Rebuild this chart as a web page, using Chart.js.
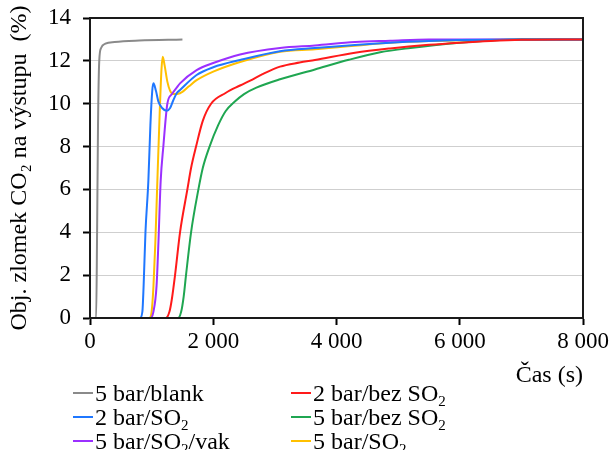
<!DOCTYPE html>
<html>
<head>
<meta charset="utf-8">
<script src="https://cdn.jsdelivr.net/npm/chart.js@4.4.1/dist/chart.umd.min.js"></script>
<style>
  html, body { margin: 0; padding: 0; background: #fff; }
  #wrap { position: relative; width: 614px; height: 450px; overflow: hidden; }
  #legend { position: absolute; left: 0; top: 0; width: 614px; height: 450px; pointer-events: none;
            font-family: 'Liberation Serif', 'Times New Roman', serif; font-size: 24px; color: #000; }
  .item { position: absolute; height: 24px; line-height: 24px; white-space: nowrap; display: flex; align-items: center; }
  .dash { display: inline-block; width: 20px; height: 2px; margin-right: 2px; }
  sub { font-size: 15px; vertical-align: -5px; line-height: 0; }
</style>
</head>
<body>
<div id="wrap">
  <canvas id="c" width="614" height="450"></canvas>
  <div id="legend"></div>
</div>
<script>
// ---- data ----
const seriesNames = ['5 bar/blank', '2 bar/bez SO₂', '2 bar/SO₂', '5 bar/bez SO₂', '5 bar/SO₂/vak', '5 bar/SO₂'];
const seriesColors = ['#8a8a8a', '#ff1a1a', '#1f77ff', '#1fa651', '#9b30ff', '#ffc000'];

const tBlank = [0, 100, 115, 130, 150, 180, 250, 400, 800, 1500];
const vBlank = [0, 0, 4, 9, 12.0, 12.6, 12.8, 12.88, 12.95, 13.0];

const tRed2 = [0, 1230, 1290, 1326, 1380, 1461, 1580, 1640, 1721, 1830, 1965, 2200, 2435, 2600, 2800, 3084, 3400, 3650, 4300, 4870, 5500, 6000, 6500, 7000, 8000];
const vRed2 = [0, 0, 0.3, 0.84, 2, 4, 6, 7, 8, 9.2, 10, 10.5, 10.85, 11.08, 11.38, 11.73, 11.92, 12.04, 12.38, 12.58, 12.75, 12.85, 12.93, 12.98, 13.0];

const tBlue2 = [0, 810, 850, 870, 900, 947, 980, 1010, 1030, 1070, 1110, 1170, 1245, 1300, 1350, 1407, 1461, 1730, 2000, 2435, 3084, 3650, 4870, 5500, 6000, 7000, 8000];
const vBlue2 = [0, 0, 0.3, 1.5, 4, 6.4, 9, 10.6, 10.95, 10.6, 10.1, 9.8, 9.67, 9.8, 10.15, 10.49, 10.64, 11.34, 11.7, 12.04, 12.45, 12.6, 12.85, 12.93, 12.97, 13.0, 13.0];

const tGreen5 = [0, 1430, 1480, 1520, 1558, 1640, 1759, 1830, 1940, 2080, 2200, 2350, 2500, 2700, 3084, 3650, 4200, 4708, 5200, 6000, 6500, 7000, 8000];
const vGreen5 = [0, 0, 0.3, 1, 2, 4, 6, 7, 8, 9, 9.65, 10.1, 10.45, 10.75, 11.14, 11.6, 12.05, 12.4, 12.6, 12.85, 12.95, 13.0, 13.0];

const tPurple5 = [0, 980, 1030, 1080, 1110, 1147, 1190, 1255, 1330, 1407, 1461, 1730, 2000, 2435, 3084, 3650, 4300, 4870, 5500, 8000];
const vPurple5 = [0, 0, 0.3, 1.5, 3.5, 6.4, 8, 10, 10.45, 10.75, 10.95, 11.57, 11.9, 12.3, 12.6, 12.72, 12.88, 12.94, 13.0, 13.0];

const tYellow5 = [0, 960, 1000, 1030, 1060, 1093, 1130, 1160, 1180, 1210, 1255, 1300, 1353, 1461, 1600, 1730, 2000, 2435, 3084, 3650, 4870, 5500, 6000, 7000, 8000];
const vYellow5 = [0, 0, 0.3, 1.5, 3.5, 6.4, 9.5, 11.6, 12.19, 11.8, 11.03, 10.6, 10.45, 10.49, 10.8, 11.1, 11.5, 11.95, 12.43, 12.54, 12.85, 12.93, 12.96, 13.0, 13.0];

const xTickValues = [0, 2000, 4000, 6000, 8000];
const xTickLabels = ['0', '2 000', '4 000', '6 000', '8 000'];
const yTickLabels = ['0', '2', '4', '6', '8', '10', '12', '14'];

const seriesT = [tBlank, tRed2, tBlue2, tGreen5, tPurple5, tYellow5];
const seriesV = [vBlank, vRed2, vBlue2, vGreen5, vPurple5, vYellow5];

// ---- chart ----
const FONT = "'Liberation Serif', 'Times New Roman', 'DejaVu Serif', serif";
const datasets = seriesNames.map((name, i) => ({
  label: name,
  data: seriesT[i].map((t, j) => ({ x: t, y: seriesV[i][j] })),
  borderColor: seriesColors[i],
  backgroundColor: seriesColors[i],
  borderWidth: 2,
  pointRadius: 0,
  fill: false,
  cubicInterpolationMode: 'monotone'
}));

const framePlugin = {
  id: 'frame',
  afterDraw(chart) {
    const a = chart.chartArea, ctx = chart.ctx;
    ctx.save();
    ctx.strokeStyle = '#1a1a1a';
    ctx.lineWidth = 2;
    ctx.strokeRect(a.left, a.top, a.right - a.left, a.bottom - a.top);
    ctx.restore();
  }
};

new Chart(document.getElementById('c'), {
  type: 'line',
  data: { datasets },
  plugins: [framePlugin],
  options: {
    responsive: false,
    animation: false,
    layout: { padding: { left: 0, right: 31, top: 18, bottom: 60 } },
    plugins: { legend: { display: false }, tooltip: { enabled: false } },
    scales: {
      x: {
        type: 'linear', min: 0, max: 8000,
        afterBuildTicks(scale) { scale.ticks = xTickValues.map(v => ({ value: v })); },
        afterFit(scale) { scale.height = 72; scale.paddingLeft = 0; scale.paddingRight = 0; },
        ticks: {
          font: { family: FONT, size: 23 }, color: '#000', padding: 3, maxRotation: 0,
          callback(v) { const k = xTickValues.indexOf(v); return k >= 0 ? xTickLabels[k] : ''; }
        },
        grid: { drawOnChartArea: false, drawTicks: true, tickLength: 7, tickColor: '#000', tickWidth: 2 },
        border: { color: '#000', width: 2 },
        title: { display: true, text: 'Čas (s)', align: 'end', font: { family: FONT, size: 24 }, color: '#000', padding: { top: 0, bottom: 0 } }
      },
      y: {
        min: 0, max: 14,
        afterBuildTicks(scale) { scale.ticks = yTickLabels.map(s => ({ value: Number(s) })); },
        afterFit(scale) { scale.width = 90; scale.paddingTop = 0; scale.paddingBottom = 0; },
        ticks: {
          font: { family: FONT, size: 23 }, color: '#000', padding: 12,
          callback(v) { const k = yTickLabels.indexOf(String(v)); return k >= 0 ? yTickLabels[k] : ''; }
        },
        grid: { color: '#cfcfcf', lineWidth: 1, drawTicks: true, tickLength: 7, tickColor: '#000', tickWidth: 2 },
        border: { color: '#000', width: 2 },
        title: { display: true, text: 'Obj. zlomek CO₂ na výstupu  (%)', font: { family: FONT, size: 24 }, color: '#000', padding: { top: 5, bottom: 0 } }
      }
    }
  }
});

// ---- legend (2 columns, row-major like the reference) ----
const legendCols = [73, 291];
const legendRows = [393, 417, 441];
const legendEl = document.getElementById('legend');
seriesNames.forEach((name, i) => {
  const col = i % 2, row = Math.floor(i / 2);
  const d = document.createElement('div');
  d.className = 'item';
  d.style.left = legendCols[col] + 'px';
  d.style.top = (legendRows[row] - 12) + 'px';
  const dash = document.createElement('span');
  dash.className = 'dash';
  dash.style.background = seriesColors[i];
  const txt = document.createElement('span');
  txt.innerHTML = name.replace(/₂/g, '<sub>2</sub>');
  d.appendChild(dash);
  d.appendChild(txt);
  legendEl.appendChild(d);
});
</script>
</body>
</html>
